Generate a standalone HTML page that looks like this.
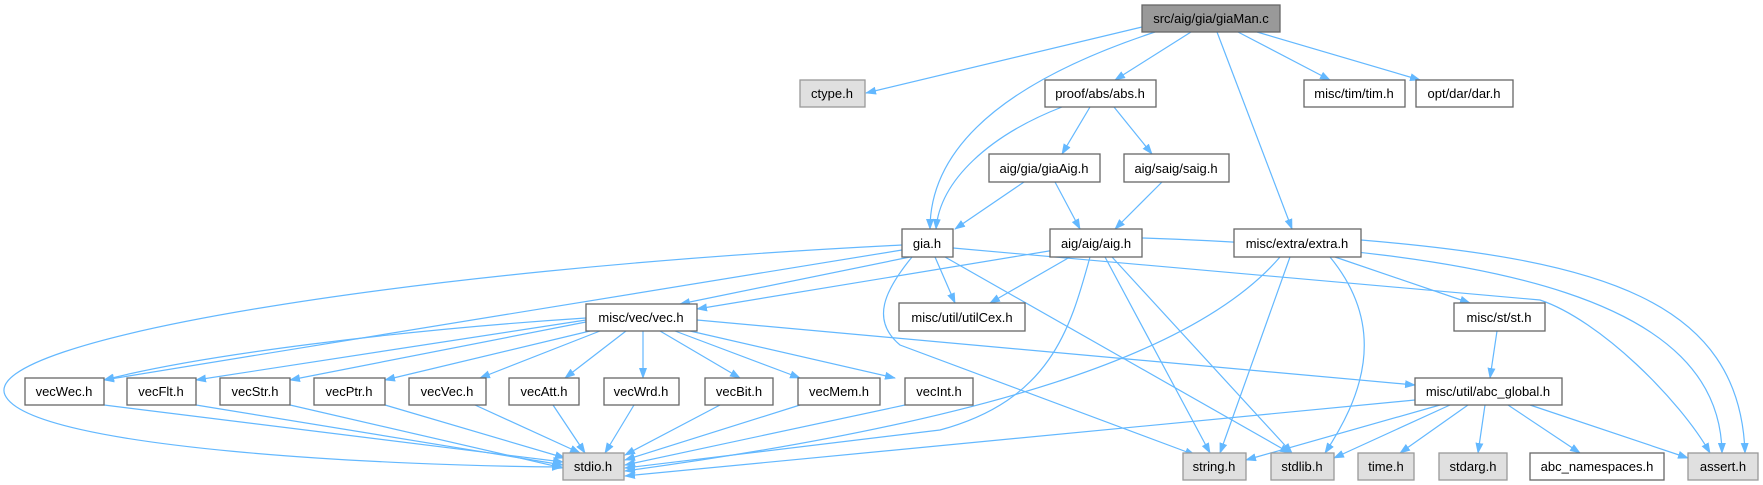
<!DOCTYPE html>
<html><head><meta charset="utf-8"><style>
html,body{margin:0;padding:0;background:#fff;}
svg{display:block;}
text{font-family:"Liberation Sans",Arial,sans-serif;font-size:13px;fill:#000;text-anchor:middle;}
.e{fill:none;stroke:#63b8ff;stroke-width:1.2;marker-end:url(#a);}
.n{fill:#fff;stroke:#666;stroke-width:1.3;}
.g{fill:#e0e0e0;stroke:#999;stroke-width:1.3;}
</style></head><body>
<svg width="1763" height="485" viewBox="0 0 1763 485" xmlns="http://www.w3.org/2000/svg">
<defs><marker id="a" markerWidth="11" markerHeight="8" refX="10" refY="4" orient="auto" markerUnits="userSpaceOnUse"><path d="M0,0 L11,4 L0,8 z" fill="#63b8ff"/></marker></defs>
<g>
<path class="e" d="M1142,27 L866,93"/>
<path class="e" d="M1155,32 C1040,70 930,130 930,229"/>
<path class="e" d="M1191,32 L1115,80"/>
<path class="e" d="M1217,32 L1292,229"/>
<path class="e" d="M1238,32 L1330,80"/>
<path class="e" d="M1257,32 L1420,80"/>
<path class="e" d="M1062,107 C990,135 940,180 936,229"/>
<path class="e" d="M1090,107 L1062,154"/>
<path class="e" d="M1114,107 L1152,154"/>
<path class="e" d="M1024,182 L955,229"/>
<path class="e" d="M1055,182 L1080,229"/>
<path class="e" d="M1162,182 L1115,229"/>
<path class="e" d="M910,257 L680,304"/>
<path class="e" d="M902,250 L104,380"/>
<path class="e" d="M902,245 C400,270 -20,340 5,395 C30,450 400,466 562,467"/>
<path class="e" d="M935,257 L955,303"/>
<path class="e" d="M912,257 C885,290 870,320 900,345 L1195,455"/>
<path class="e" d="M945,257 L1290,453"/>
<path class="e" d="M953,248 L1540,300 C1600,320 1680,400 1710,453"/>
<path class="e" d="M1055,250 L697,309"/>
<path class="e" d="M1070,257 L990,303"/>
<path class="e" d="M1090,257 C1070,330 1050,400 940,430 L625,468"/>
<path class="e" d="M1105,257 L1210,453"/>
<path class="e" d="M1112,257 L1292,453"/>
<path class="e" d="M1142,238 C1500,250 1720,300 1722,453"/>
<path class="e" d="M1280,257 C1200,350 1000,420 625,471"/>
<path class="e" d="M1290,257 L1220,453"/>
<path class="e" d="M1330,257 C1390,330 1360,400 1325,453"/>
<path class="e" d="M1335,257 L1470,303"/>
<path class="e" d="M1361,240 C1600,260 1740,300 1745,453"/>
<path class="e" d="M586,318 C400,330 200,355 104,380"/>
<path class="e" d="M586,320 L196,380"/>
<path class="e" d="M586,322 L290,380"/>
<path class="e" d="M590,331 L385,380"/>
<path class="e" d="M600,331 L480,378"/>
<path class="e" d="M626,331 L565,378"/>
<path class="e" d="M643,331 L643,378"/>
<path class="e" d="M660,331 L740,378"/>
<path class="e" d="M675,331 L800,378"/>
<path class="e" d="M690,331 L895,378"/>
<path class="e" d="M697,320 L1415,385"/>
<path class="e" d="M104,405 L563,462"/>
<path class="e" d="M196,405 L563,465"/>
<path class="e" d="M290,405 L563,468"/>
<path class="e" d="M385,405 L565,458"/>
<path class="e" d="M475,405 L580,453"/>
<path class="e" d="M553,405 L585,453"/>
<path class="e" d="M634,405 L605,453"/>
<path class="e" d="M720,405 L625,455"/>
<path class="e" d="M800,405 L625,460"/>
<path class="e" d="M905,405 L625,465"/>
<path class="e" d="M1497,331 L1490,378"/>
<path class="e" d="M1415,400 L625,476"/>
<path class="e" d="M1440,405 L1246,460"/>
<path class="e" d="M1450,405 L1334,458"/>
<path class="e" d="M1468,405 L1400,453"/>
<path class="e" d="M1485,405 L1478,453"/>
<path class="e" d="M1508,405 L1580,453"/>
<path class="e" d="M1530,405 L1688,458"/>
</g>
<g>
<rect x="1142" y="5" width="138" height="27" fill="#999" stroke="#666" stroke-width="1.3"/><text x="1211" y="23">src/aig/gia/giaMan.c</text>
<rect class="g" x="800" y="80" width="65" height="27"/><text x="832" y="98">ctype.h</text>
<rect class="n" x="1045" y="80" width="111" height="27"/><text x="1100" y="98">proof/abs/abs.h</text>
<rect class="n" x="1304" y="80" width="101" height="27"/><text x="1354" y="98">misc/tim/tim.h</text>
<rect class="n" x="1416" y="80" width="97" height="27"/><text x="1464" y="98">opt/dar/dar.h</text>
<rect class="n" x="989" y="154" width="111" height="28"/><text x="1044" y="173">aig/gia/giaAig.h</text>
<rect class="n" x="1124" y="154" width="105" height="28"/><text x="1176" y="173">aig/saig/saig.h</text>
<rect class="n" x="902" y="229" width="51" height="28"/><text x="927" y="248">gia.h</text>
<rect class="n" x="1050" y="229" width="92" height="28"/><text x="1096" y="248">aig/aig/aig.h</text>
<rect class="n" x="1234" y="229" width="127" height="28"/><text x="1297" y="248">misc/extra/extra.h</text>
<rect class="n" x="586" y="304" width="111" height="27"/><text x="641" y="322">misc/vec/vec.h</text>
<rect class="n" x="899" y="303" width="126" height="28"/><text x="962" y="322">misc/util/utilCex.h</text>
<rect class="n" x="1454" y="303" width="91" height="28"/><text x="1499" y="322">misc/st/st.h</text>
<rect class="n" x="25" y="378" width="79" height="27"/><text x="64" y="396">vecWec.h</text>
<rect class="n" x="127" y="378" width="69" height="27"/><text x="161" y="396">vecFlt.h</text>
<rect class="n" x="220" y="378" width="70" height="27"/><text x="255" y="396">vecStr.h</text>
<rect class="n" x="314" y="378" width="71" height="27"/><text x="349" y="396">vecPtr.h</text>
<rect class="n" x="409" y="378" width="77" height="27"/><text x="447" y="396">vecVec.h</text>
<rect class="n" x="509" y="378" width="70" height="27"/><text x="544" y="396">vecAtt.h</text>
<rect class="n" x="604" y="378" width="75" height="27"/><text x="641" y="396">vecWrd.h</text>
<rect class="n" x="705" y="378" width="68" height="27"/><text x="739" y="396">vecBit.h</text>
<rect class="n" x="798" y="378" width="82" height="27"/><text x="839" y="396">vecMem.h</text>
<rect class="n" x="905" y="378" width="68" height="27"/><text x="939" y="396">vecInt.h</text>
<rect class="n" x="1415" y="378" width="147" height="27"/><text x="1488" y="396">misc/util/abc_global.h</text>
<rect class="g" x="563" y="453" width="61" height="27"/><text x="593" y="471">stdio.h</text>
<rect class="g" x="1183" y="453" width="63" height="27"/><text x="1214" y="471">string.h</text>
<rect class="g" x="1271" y="453" width="63" height="27"/><text x="1302" y="471">stdlib.h</text>
<rect class="g" x="1358" y="453" width="56" height="27"/><text x="1386" y="471">time.h</text>
<rect class="g" x="1439" y="453" width="68" height="27"/><text x="1473" y="471">stdarg.h</text>
<rect class="n" x="1530" y="453" width="134" height="27"/><text x="1597" y="471">abc_namespaces.h</text>
<rect class="g" x="1688" y="453" width="70" height="27"/><text x="1723" y="471">assert.h</text>
</g>
</svg>
</body></html>
